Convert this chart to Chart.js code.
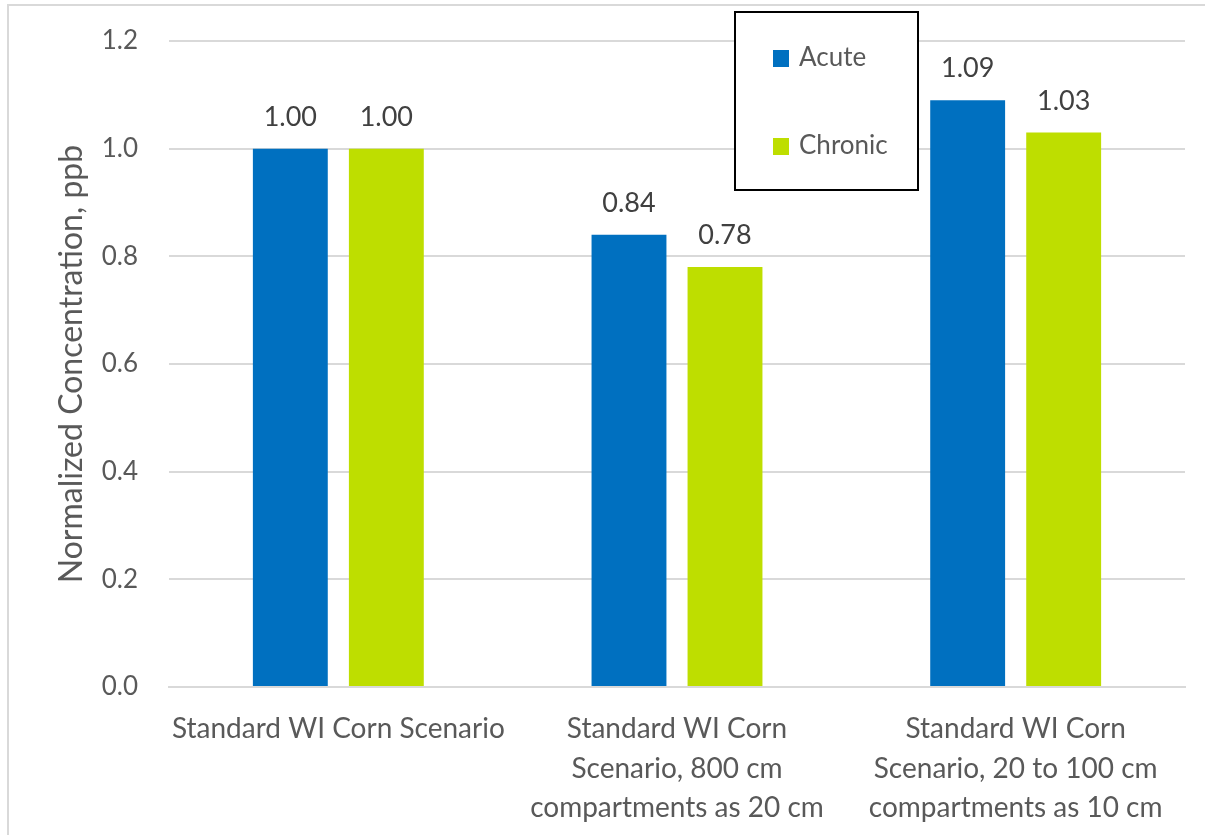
<!DOCTYPE html>
<html>
<head>
<meta charset="utf-8">
<script src="https://cdn.jsdelivr.net/npm/chart.js@4/dist/chart.umd.min.js"></script>
<style>
  html, body { margin: 0; padding: 0; background: #ffffff; }
  #wrap { position: relative; width: 1205px; height: 835px; }
  canvas { display: block; }
</style>
</head>
<body>
<div id="wrap"><canvas id="chart" width="1205" height="835"></canvas></div>
<script>
// Scenario categories (multi-line axis labels)
const categories = [
  ['Standard WI Corn Scenario'],
  ['Standard WI Corn', 'Scenario, 800 cm', 'compartments as 20 cm'],
  ['Standard WI Corn', 'Scenario, 20 to 100 cm', 'compartments as 10 cm']
];
const acuteValues = [1.00, 0.84, 1.09];
const chronicValues = [1.00, 0.78, 1.03];
const yTicks = { min: 0, max: 1.2, step: 0.2 };

const TEXT = '#595959';
const FONT = 'Lato, "Open Sans", sans-serif';

// Light frame around the chart
const framePlugin = {
  id: 'frame',
  beforeDraw(chart) {
    const ctx = chart.ctx;
    ctx.save();
    ctx.fillStyle = '#ffffff';
    ctx.fillRect(0, 0, chart.width, chart.height);
    ctx.strokeStyle = '#d9d9d9';
    ctx.lineWidth = 2;
    ctx.beginPath();
    ctx.moveTo(8, chart.height);
    ctx.lineTo(8, 5);
    ctx.lineTo(chart.width, 5);
    ctx.stroke();
    ctx.restore();
  }
};

// Value labels above each bar
const valueLabels = {
  id: 'valueLabels',
  afterDatasetsDraw(chart) {
    const ctx = chart.ctx;
    ctx.save();
    ctx.font = '27px ' + FONT;
    ctx.fillStyle = '#404040';
    ctx.textAlign = 'center';
    ctx.textBaseline = 'alphabetic';
    chart.data.datasets.forEach((ds, i) => {
      chart.getDatasetMeta(i).data.forEach((bar, j) => {
        ctx.fillText(ds.data[j].toFixed(2), bar.x, bar.y - 23);
      });
    });
    ctx.restore();
  }
};

// Boxed legend placed inside the plot area
const boxLegend = {
  id: 'boxLegend',
  afterDraw(chart) {
    const ctx = chart.ctx;
    const box = { x: 735, y: 12, w: 183, h: 178 };
    ctx.save();
    ctx.fillStyle = '#ffffff';
    ctx.fillRect(box.x, box.y, box.w, box.h);
    ctx.strokeStyle = '#000000';
    ctx.lineWidth = 2;
    ctx.strokeRect(box.x, box.y, box.w, box.h);
    ctx.font = '26px ' + FONT;
    ctx.textBaseline = 'middle';
    ctx.textAlign = 'left';
    const rows = [58, 146];
    chart.data.datasets.forEach((ds, i) => {
      const cy = rows[i];
      ctx.fillStyle = ds.backgroundColor;
      ctx.fillRect(773, cy - 8, 16, 17);
      ctx.fillStyle = TEXT;
      ctx.fillText(ds.label, 799, cy);
    });
    ctx.restore();
  }
};

new Chart(document.getElementById('chart'), {
  type: 'bar',
  data: {
    labels: categories,
    datasets: [
      { label: 'Acute', data: acuteValues, backgroundColor: '#0070C0' },
      { label: 'Chronic', data: chronicValues, backgroundColor: '#BEDE00' }
    ]
  },
  options: {
    responsive: false,
    animation: false,
    events: [],
    layout: { padding: { left: 0, right: 20, top: 41, bottom: 0 } },
    plugins: {
      legend: { display: false },
      tooltip: { enabled: false }
    },
    datasets: {
      bar: { categoryPercentage: 0.567, barPercentage: 0.78 }
    },
    scales: {
      x: {
        grid: { display: false, drawTicks: false },
        border: { display: true, color: '#d9d9d9', width: 2 },
        ticks: {
          color: TEXT,
          font: { family: FONT, size: 28, lineHeight: 1.42 },
          padding: 22,
          maxRotation: 0,
          autoSkip: false
        },
        afterFit(scale) { scale.height = 148; }
      },
      y: {
        min: yTicks.min,
        max: yTicks.max,
        grid: {
          color: '#d9d9d9',
          lineWidth: 2,
          drawTicks: true,
          tickLength: 25,
          tickColor: 'rgba(0,0,0,0)'
        },
        border: { display: false },
        ticks: {
          stepSize: yTicks.step,
          color: TEXT,
          font: { family: FONT, size: 26 },
          padding: 6,
          callback: v => Number(v).toFixed(1)
        },
        title: {
          display: true,
          text: 'Normalized Concentration, ppb',
          color: TEXT,
          font: { family: FONT, size: 32 },
          padding: { top: 52, bottom: 0 }
        },
        afterFit(scale) { scale.width = 169; }
      }
    }
  },
  plugins: [framePlugin, valueLabels, boxLegend]
});
</script>
</body>
</html>
